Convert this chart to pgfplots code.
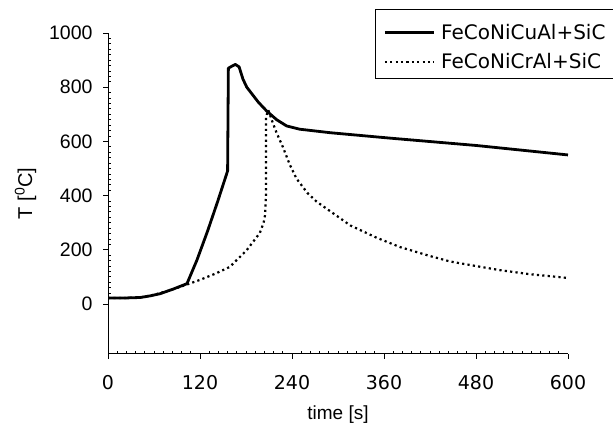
\documentclass[border=0pt]{standalone}
\usepackage{pgfplots}
\pgfplotsset{compat=1.18}
\usepackage{fontspec}
\setmainfont{Liberation Sans}
\newfontfamily\dejavu{DejaVu Sans}

\begin{document}
\begin{tikzpicture}
\begin{axis}[
  scale only axis,
  width=460pt, height=321pt,
  at={(108pt,71pt)}, anchor=south west,
  xmin=0, xmax=600, ymin=-184.5, ymax=1000,
  axis x line=bottom, axis y line=left,
  axis line style={-, line width=1pt},
  xtick={0,120,240,360,480,600},
  ytick={0,200,400,600,800,1000},
  minor x tick num=9, minor y tick num=9,
  tick align=inside,
  major tick length=5pt, minor tick length=3pt,
  every major x tick/.append style={yshift=-5pt},
  every major y tick/.append style={xshift=-5pt},
  tick style={black, line width=0.8pt},
  /pgf/number format/assume math mode=true,
  /pgf/number format/1000 sep={},
  xticklabel style={font=\dejavu\fontsize{19}{20}\selectfont, yshift=-18pt},
  yticklabel style={font=\fontsize{19.5}{20}\selectfont, xshift=-12pt},
  every axis x label/.style={at={(rel axis cs:0.5,0)}, anchor=base, yshift=-66pt, font=\fontsize{19}{20}\selectfont},
  every axis y label/.style={at={(axis description cs:-0.165,0.5)}, rotate=90, anchor=base, font=\fontsize{20}{20}\selectfont},
  xlabel={time [s]},
  ylabel={T [\textsuperscript{0}C]},
  clip=false,
  legend style={at={(axis description cs:0.5804,1.0748)}, anchor=north west,
    draw=black, line width=0.8pt, fill=white,
    font=\dejavu\fontsize{20}{20}\selectfont,
    inner xsep=8pt, inner ysep=10pt,
    nodes={inner sep=0pt, text height=20pt, text depth=0pt, text width=175pt},
    row sep=9.5pt, column sep=6pt},
  legend cell align=left,
  legend image code/.code={\draw[#1] (0pt,-3pt) -- (49pt,-3pt);},
]
\addplot[black, line width=2.8pt, line join=round] coordinates {
  (0,22)(20,22)(42,24)(55,30)(68,38)(85,55)(103,75)(116,162)(130,270)
  (143,378)(156,491)(157,870)(160,875)(166,884)(171,875)(176,830)(181,800)
  (196,745)(207,712)(220,680)(233,657)(250,645)(290,632)(368,612)(480,585)(600,550)
};
\addlegendentry{FeCoNiCuAl+SiC}
\addplot[black, line width=2.2pt, line cap=butt, dash pattern=on 2.2pt off 3.2pt] coordinates {
  (0,22)(20,22)(42,24)(60,34)(80,50)(94,63)(120,89)(140,112)(159,137)
  (181,199)(198,262)(203,300)(205,330)(206,400)(206,550)(206,690)(209,716)
  (215,668)(220,631)(228,580)(237,515)(246,462)(260,410)(272,378)(286,350)
  (300,322)(316,290)(350,245)(381,210)(420,177)(446,157)(480,140)(511,125)
  (550,110)(600,96)
};
\addlegendentry{FeCoNiCrAl+SiC}
\end{axis}
\pgfresetboundingbox
\path[use as bounding box] (0,0) rectangle (613pt,425pt);
\end{tikzpicture}
\end{document}
